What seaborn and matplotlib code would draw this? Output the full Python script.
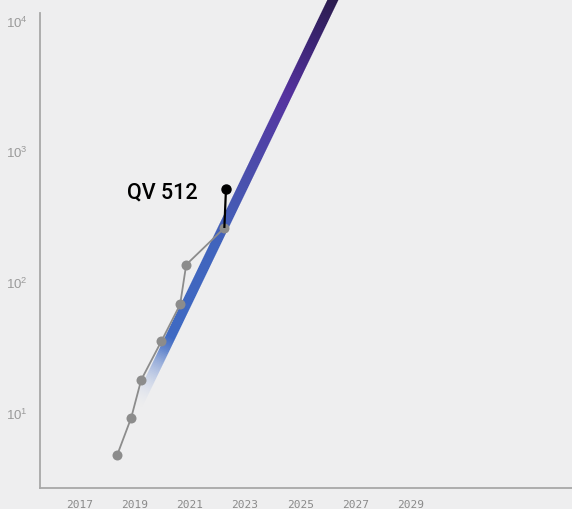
import numpy as np
import pandas as pd
import matplotlib
matplotlib.use("Agg")
import matplotlib.pyplot as plt
from matplotlib.colors import LinearSegmentedColormap
import seaborn as sns

# Quantum volume milestones
years = [2018.37, 2018.88, 2019.24, 2019.97, 2020.65, 2020.87, 2022.25]
qv = [4.7, 9.1, 17.7, 35, 67, 135, 258]

# Latest record
record_year = 2022.31
record_qv = 512
record_label = "QV 512"

# Projected growth band (start / end)
trend_years = [2019.1, 2026.6]
trend_qv = [11.2, 22000]

x_ticks = [2017, 2019, 2021, 2023, 2025, 2027, 2029]
y_exponents = [1, 2, 3, 4]

BG = "#eeeeef"
sns.set_theme(style="white")

fig = plt.figure(figsize=(5.72, 5.10), dpi=100, facecolor=BG)
ax = fig.add_axes([40 / 572, 21 / 510, 532 / 572, 475 / 510])
ax.patch.set_visible(False)
ax.set_yscale("log")
ax.set_xlim(2015.58, 2034.83)
ax.set_ylim(2.64, 11400)

# Gradient band: the trend endpoints go through the axes' scales to pixels,
# then a smooth colour ramp is painted along that thick segment.
band_cmap = LinearSegmentedColormap.from_list(
    "band",
    [(0.0, "#c6d2ee"), (0.13, "#3f6bc4"), (0.38, "#4164bd"),
     (0.52, "#4a52ae"), (0.72, "#5633a0"), (0.86, "#3a2470"), (1.0, "#24183a")],
)
p0 = ax.transData.transform((trend_years[0], trend_qv[0]))
p1 = ax.transData.transform((trend_years[1], trend_qv[1]))
W, H = fig.canvas.get_width_height()
yy, xx = np.mgrid[0:H, 0:W] + 0.5
d = p1 - p0
length = np.hypot(d[0], d[1])
u = d / length
nrm = np.array([-u[1], u[0]])
along = ((xx - p0[0]) * u[0] + (yy - p0[1]) * u[1]) / length
perp = np.abs((xx - p0[0]) * nrm[0] + (yy - p0[1]) * nrm[1])
half_w = 5.0
cover = np.clip(half_w + 0.5 - perp, 0, 1) * ((along >= 0) & (along <= 1))
rgba = band_cmap(np.clip(along, 0, 1))
ramp = np.clip(along / 0.16, 0, 1) ** 1.2
rgba[..., 3] = cover * ramp
fig.figimage(rgba, xo=0, yo=0, origin="lower", zorder=-1)

# Milestone series
df = pd.DataFrame({"year": years, "qv": qv})
sns.lineplot(data=df, x="year", y="qv", ax=ax, color="#8c8c8c", linewidth=1.3,
             marker="o", markersize=7.2, markeredgewidth=0, zorder=3)

# Record stem and point
ax.plot([years[-1], record_year], [qv[-1], record_qv], color="black",
        linewidth=1.6, zorder=4, solid_capstyle="butt")
ax.plot([record_year], [record_qv], "o", color="black", markersize=6.5, zorder=5)
ax.annotate(record_label, (record_year, record_qv), xytext=(-28, -3),
            textcoords="offset pixels", ha="right", va="center",
            fontsize=15.5, fontweight="medium", family="Roboto", color="black")

# Axes styling
ax.set_xlabel("")
ax.set_ylabel("")
ax.set_xticks(x_ticks)
ax.set_xticklabels([str(y) for y in x_ticks], family="DejaVu Sans Mono",
                   fontsize=8, color="#8a8a8a")
ax.set_yticks([10 ** e for e in y_exponents])
ax.set_yticklabels([f"$\\mathregular{{10^{{{e}}}}}$" for e in y_exponents],
                   family="Liberation Sans", fontsize=9.5, color="#9a9a9a")
ax.yaxis.set_minor_locator(matplotlib.ticker.NullLocator())
ax.tick_params(axis="x", length=0, pad=8)
ax.tick_params(axis="y", length=0, pad=9)
for side in ("top", "right"):
    ax.spines[side].set_visible(False)
for side in ("left", "bottom"):
    ax.spines[side].set_color("#a8a8a8")
    ax.spines[side].set_linewidth(1.3)

fig.savefig("out.png", dpi=100, facecolor=BG)
